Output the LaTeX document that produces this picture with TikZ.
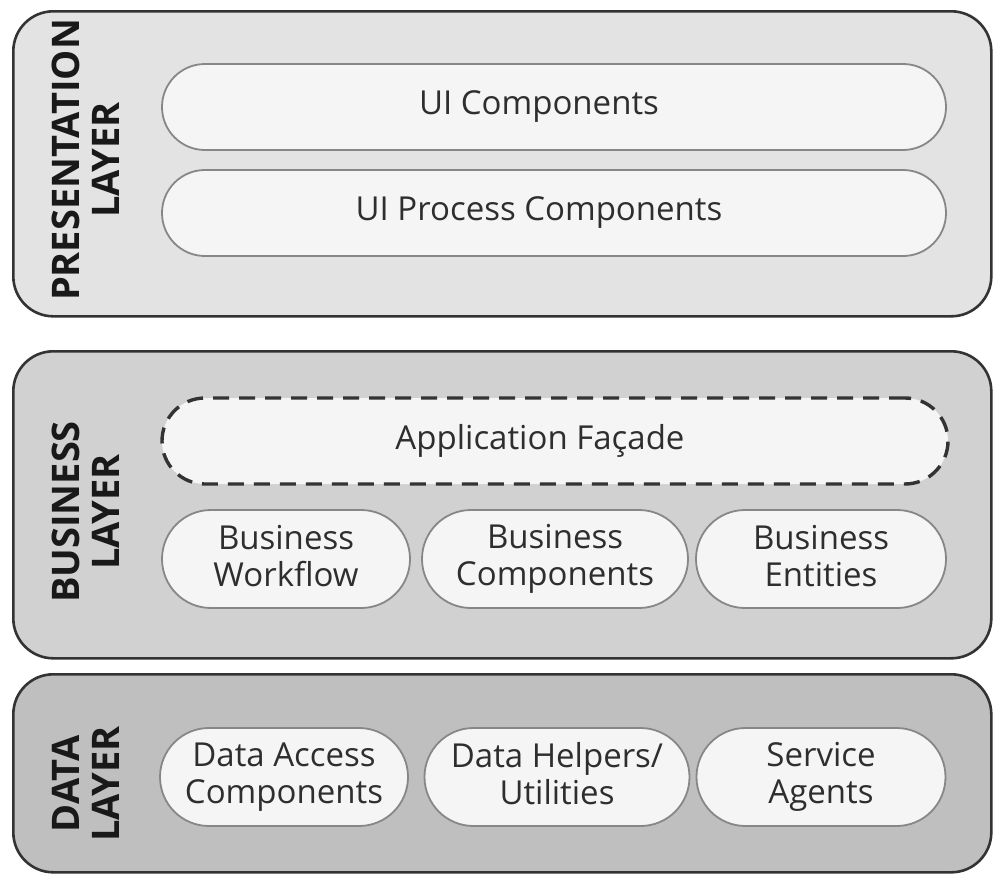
\documentclass[tikz,border=0pt]{standalone}
\usepackage{fontspec}
\setmainfont{Open Sans}
\newcommand\pillstrut{\rule[-7pt]{0pt}{30pt}}
\begin{document}
\begin{tikzpicture}[x=1pt,y=-1pt,
    layer/.style={draw=black!80,line width=2.6pt,rounded corners=40pt,inner sep=0pt,anchor=north west},
    layername/.style={rotate=90,align=center,text=black!90,font=\fontsize{38}{40}\selectfont\bfseries},
    pill/.style={draw=black!47,line width=1.8pt,fill=black!4,rounded corners=43pt,minimum height=86pt,
      inner sep=0pt,align=center,text=black!82,font=\fontsize{33}{37}\selectfont,
      execute at begin node=\pillstrut,execute at end node=\pillstrut},
    tallpill/.style={pill,rounded corners=49pt,minimum height=98pt},
    offcentre/.style={execute at begin node={\hspace*{-30pt}\pillstrut}},
    facade/.style={pill,offcentre,draw=black!80,line width=3.4pt,dash pattern=on 16pt off 10pt}]
    \useasboundingbox (0,0) rectangle (993,873);
    % layers
    \node[layer,fill=black!11,minimum width=978pt,minimum height=305pt] (pres) at (12,10) {};
    \node[layer,fill=black!18,minimum width=978pt,minimum height=307pt] (bus) at (12,350) {};
    \node[layer,fill=black!25,minimum width=978pt,minimum height=198pt] (data) at (12,673) {};
    \node[layername] (preslbl) at (86,160) {PRESENTATION\\LAYER};
    \node[layername] (buslbl) at (86,512) {BUSINESS\\LAYER};
    \node[layername] (datalbl) at (86,784) {DATA\\LAYER};
    % presentation
    \node[pill,offcentre,minimum width=784pt] (uicomp) at (554,107) {UI Components};
    \node[pill,offcentre,minimum width=784pt] (uiproc) at (554,213) {UI Process Components};
    % business
    \node[facade,minimum width=786pt] (appfacade) at (555,441) {Application Façade};
    \node[tallpill,minimum width=248pt] (workflow) at (286,559) {Business\\Workflow};
    \node[tallpill,minimum width=266pt] (buscomp) at (555,559) {Business\\Components};
    \node[tallpill,minimum width=250pt] (entities) at (821,559) {Business\\Entities};
    % data
    \node[tallpill,minimum width=248pt] (dataaccess) at (284,777) {Data Access\\Components};
    \node[tallpill,minimum width=265pt] (helpers) at (557,777) {Data Helpers/\\Utilities};
    \node[tallpill,minimum width=249pt] (agents) at (821,777) {Service\\Agents};
\end{tikzpicture}
\end{document}
